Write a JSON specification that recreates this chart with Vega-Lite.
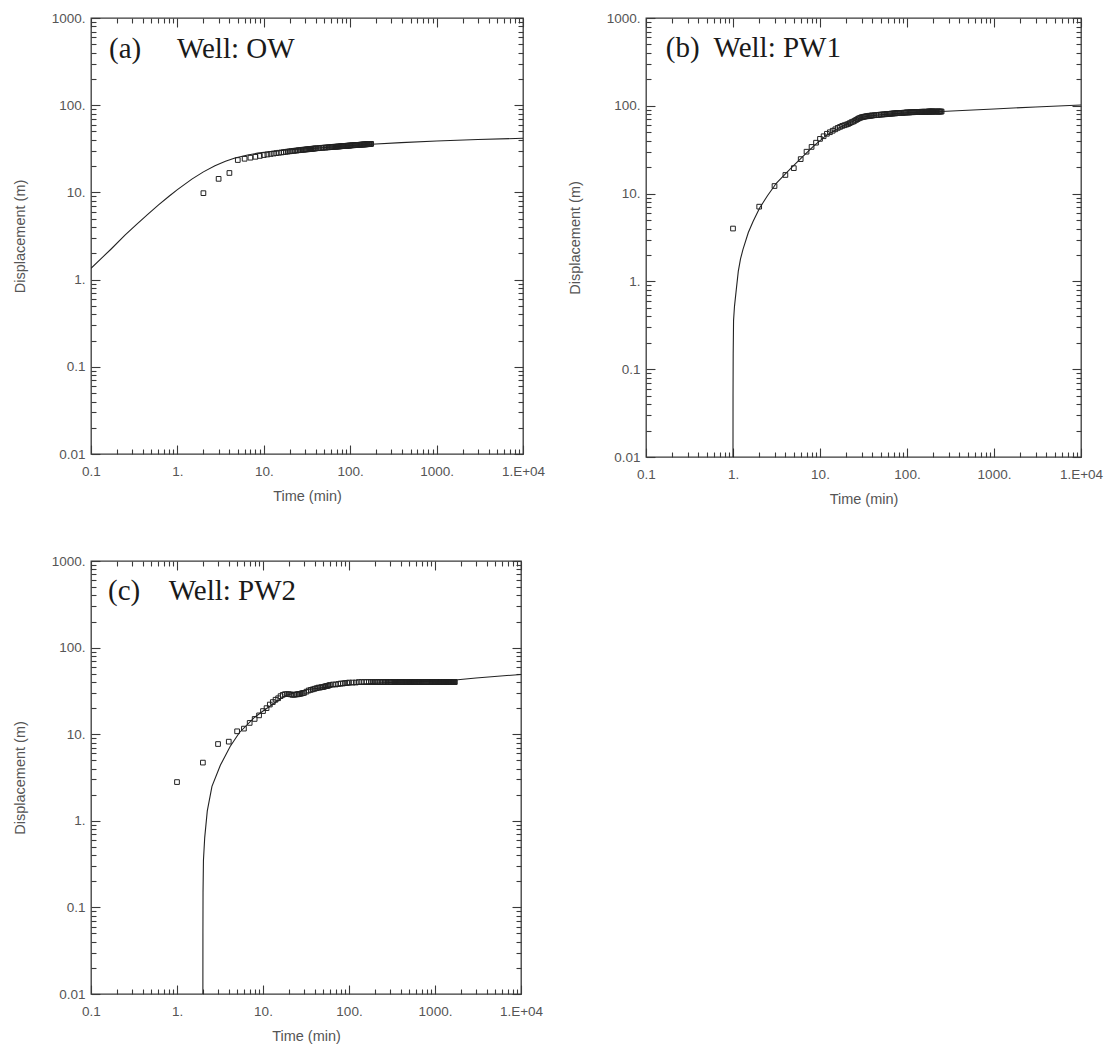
{
  "$schema": "https://vega.github.io/schema/vega-lite/v6.json",
  "background": "white",
  "padding": {"left": 11, "top": 10, "right": 5, "bottom": 2},
  "config": {
    "font": "Liberation Sans",
    "view": {"stroke": "#3a3a3a", "strokeWidth": 1.3},
    "axis": {"labelFont": "Liberation Sans", "labelFontSize": 13.5, "labelColor": "#555555", "titleFont": "Liberation Sans", "titleFontSize": 14.5, "titleFontWeight": "normal", "titleColor": "#555555", "grid": false, "domain": false, "tickColor": "#3a3a3a", "tickWidth": 1.1, "labelOverlap": false, "labelFlush": false}
  },
  "datasets": {
    "ow_obs": [
      {"t": 2, "s": 9.8}, {"t": 3, "s": 14.3}, {"t": 4, "s": 16.7},
      {"t": 5, "s": 23.5}, {"t": 6, "s": 24.3}, {"t": 7, "s": 25.0}, {"t": 8, "s": 25.6}, {"t": 9, "s": 26.2}, {"t": 10, "s": 26.8}, {"t": 11, "s": 27.2}, {"t": 12, "s": 27.6}, {"t": 13, "s": 27.9}, {"t": 14, "s": 28.2}, {"t": 15, "s": 28.5}, {"t": 16, "s": 28.7}, {"t": 17, "s": 29.0}, {"t": 18, "s": 29.2}, {"t": 19, "s": 29.4}, {"t": 20, "s": 29.6},
      {"t": 21, "s": 29.8}, {"t": 22, "s": 29.9}, {"t": 23, "s": 30.1}, {"t": 24, "s": 30.2}, {"t": 25, "s": 30.4}, {"t": 26, "s": 30.5}, {"t": 27, "s": 30.6}, {"t": 28, "s": 30.8}, {"t": 29, "s": 30.9}, {"t": 30, "s": 31.0},
      {"t": 31, "s": 31.1}, {"t": 32, "s": 31.2}, {"t": 33, "s": 31.3}, {"t": 34, "s": 31.4}, {"t": 35, "s": 31.5}, {"t": 36, "s": 31.6}, {"t": 37, "s": 31.7}, {"t": 38, "s": 31.8}, {"t": 39, "s": 31.9}, {"t": 40, "s": 32.0},
      {"t": 42, "s": 32.1}, {"t": 44, "s": 32.2}, {"t": 46, "s": 32.4}, {"t": 48, "s": 32.5}, {"t": 50, "s": 32.6}, {"t": 52, "s": 32.7}, {"t": 54, "s": 32.8}, {"t": 56, "s": 32.9}, {"t": 58, "s": 33.0}, {"t": 60, "s": 33.1},
      {"t": 62, "s": 33.2}, {"t": 64, "s": 33.3}, {"t": 66, "s": 33.4}, {"t": 68, "s": 33.4}, {"t": 70, "s": 33.5}, {"t": 72, "s": 33.6}, {"t": 74, "s": 33.6}, {"t": 76, "s": 33.7}, {"t": 78, "s": 33.8}, {"t": 80, "s": 33.9},
      {"t": 82, "s": 33.9}, {"t": 84, "s": 34.0}, {"t": 86, "s": 34.1}, {"t": 88, "s": 34.1}, {"t": 90, "s": 34.2}, {"t": 92, "s": 34.3}, {"t": 94, "s": 34.3}, {"t": 96, "s": 34.4}, {"t": 98, "s": 34.4}, {"t": 100, "s": 34.5},
      {"t": 103, "s": 34.6}, {"t": 106, "s": 34.7}, {"t": 109, "s": 34.7}, {"t": 112, "s": 34.8}, {"t": 115, "s": 34.9}, {"t": 118, "s": 34.9}, {"t": 121, "s": 35.0}, {"t": 124, "s": 35.1}, {"t": 127, "s": 35.1}, {"t": 130, "s": 35.2},
      {"t": 133, "s": 35.3}, {"t": 136, "s": 35.3}, {"t": 139, "s": 35.4}, {"t": 142, "s": 35.4}, {"t": 145, "s": 35.5}, {"t": 148, "s": 35.5}, {"t": 151, "s": 35.6}, {"t": 154, "s": 35.6}, {"t": 157, "s": 35.7}, {"t": 160, "s": 35.7},
      {"t": 163, "s": 35.8}, {"t": 166, "s": 35.8}, {"t": 169, "s": 35.9}, {"t": 172, "s": 35.9}, {"t": 175, "s": 36.0}
    ],
    "ow_fit": [
      {"t": 0.1, "s": 1.35}, {"t": 0.13, "s": 1.73}, {"t": 0.17, "s": 2.23}, {"t": 0.249, "s": 3.25}, {"t": 0.33, "s": 4.21}, {"t": 0.45, "s": 5.57}, {"t": 0.605, "s": 7.19}, {"t": 0.8, "s": 9.04}, {"t": 1.0, "s": 10.76}, {"t": 1.47, "s": 14.2}, {"t": 2.0, "s": 17.2}, {"t": 2.72, "s": 20.2}, {"t": 3.6, "s": 22.7}, {"t": 4.64, "s": 24.8}, {"t": 6.5, "s": 26.9}, {"t": 8.5, "s": 28.2}, {"t": 11.3, "s": 29.3}, {"t": 20, "s": 30.8}, {"t": 38.9, "s": 32.1}, {"t": 80, "s": 33.8}, {"t": 176, "s": 35.6}, {"t": 389, "s": 37.2}, {"t": 1000, "s": 38.8}, {"t": 3000, "s": 40.4}, {"t": 10000, "s": 41.7}
    ],
    "pw1_obs": [
      {"t": 1, "s": 4.0}, {"t": 2, "s": 7.1}, {"t": 3, "s": 12.2}, {"t": 4, "s": 16.3}, {"t": 5, "s": 19.5}, {"t": 6, "s": 24.7}, {"t": 7, "s": 30}, {"t": 8, "s": 34}, {"t": 9, "s": 38}, {"t": 10, "s": 42},
      {"t": 11, "s": 45}, {"t": 12, "s": 48}, {"t": 13, "s": 50}, {"t": 14, "s": 52}, {"t": 15, "s": 54}, {"t": 16, "s": 56}, {"t": 17, "s": 57.5}, {"t": 18, "s": 59}, {"t": 19, "s": 60}, {"t": 20, "s": 61},
      {"t": 21, "s": 62}, {"t": 22, "s": 63.5}, {"t": 23, "s": 65}, {"t": 24, "s": 66}, {"t": 25, "s": 67.5}, {"t": 26, "s": 69}, {"t": 27, "s": 70.5}, {"t": 28, "s": 72}, {"t": 29, "s": 73}, {"t": 30, "s": 74},
      {"t": 31, "s": 74.5}, {"t": 32, "s": 75}, {"t": 33, "s": 75.5}, {"t": 34, "s": 76}, {"t": 35, "s": 76}, {"t": 36, "s": 76.5}, {"t": 37, "s": 77}, {"t": 38, "s": 77}, {"t": 39, "s": 77.5}, {"t": 40, "s": 77.5},
      {"t": 42, "s": 78}, {"t": 44, "s": 78.5}, {"t": 46, "s": 78.5}, {"t": 48, "s": 79}, {"t": 50, "s": 79.5}, {"t": 52, "s": 79.5}, {"t": 54, "s": 80}, {"t": 56, "s": 80}, {"t": 58, "s": 80.5}, {"t": 60, "s": 81},
      {"t": 62, "s": 81}, {"t": 64, "s": 81}, {"t": 66, "s": 81.5}, {"t": 68, "s": 81.5}, {"t": 70, "s": 82}, {"t": 72, "s": 82}, {"t": 74, "s": 82}, {"t": 76, "s": 82.5}, {"t": 78, "s": 82.5}, {"t": 80, "s": 82.5},
      {"t": 83, "s": 83}, {"t": 86, "s": 83}, {"t": 89, "s": 83}, {"t": 92, "s": 83.5}, {"t": 95, "s": 83.5}, {"t": 98, "s": 84}, {"t": 101, "s": 84}, {"t": 104, "s": 84}, {"t": 107, "s": 84}, {"t": 110, "s": 84.5},
      {"t": 113, "s": 84.5}, {"t": 116, "s": 84.5}, {"t": 119, "s": 84.5}, {"t": 122, "s": 85}, {"t": 125, "s": 85}, {"t": 128, "s": 85}, {"t": 131, "s": 85}, {"t": 134, "s": 85}, {"t": 137, "s": 85}, {"t": 140, "s": 85},
      {"t": 143, "s": 85}, {"t": 146, "s": 85.5}, {"t": 149, "s": 85.5}, {"t": 152, "s": 85.5}, {"t": 155, "s": 85.5}, {"t": 158, "s": 85.5}, {"t": 161, "s": 85.5}, {"t": 164, "s": 85.5}, {"t": 167, "s": 85.5}, {"t": 170, "s": 85.5},
      {"t": 173, "s": 85.5}, {"t": 176, "s": 86}, {"t": 179, "s": 86}, {"t": 182, "s": 86}, {"t": 185, "s": 86}, {"t": 188, "s": 86}, {"t": 191, "s": 86}, {"t": 194, "s": 86}, {"t": 197, "s": 86}, {"t": 200, "s": 86},
      {"t": 205, "s": 86}, {"t": 210, "s": 86}, {"t": 215, "s": 86}, {"t": 220, "s": 86}, {"t": 225, "s": 86}, {"t": 230, "s": 86}, {"t": 235, "s": 86}, {"t": 240, "s": 86}, {"t": 245, "s": 86}, {"t": 250, "s": 86}
    ],
    "pw1_fit": [
      {"t": 1.0, "s": 0.01}, {"t": 1.001, "s": 0.05}, {"t": 1.005, "s": 0.15}, {"t": 1.015, "s": 0.36}, {"t": 1.04, "s": 0.52}, {"t": 1.09, "s": 0.8}, {"t": 1.15, "s": 1.3}, {"t": 1.22, "s": 1.8}, {"t": 1.3, "s": 2.3}, {"t": 1.5, "s": 3.6}, {"t": 1.7, "s": 4.8}, {"t": 2.03, "s": 6.9}, {"t": 2.5, "s": 9.5}, {"t": 3.16, "s": 13.2}, {"t": 4.0, "s": 16.8}, {"t": 4.9, "s": 20.5}, {"t": 6.5, "s": 27}, {"t": 8.5, "s": 35}, {"t": 11.8, "s": 46}, {"t": 16, "s": 55}, {"t": 22, "s": 64}, {"t": 28.6, "s": 72.5}, {"t": 35, "s": 76}, {"t": 50, "s": 79}, {"t": 100, "s": 83}, {"t": 248, "s": 86}, {"t": 1000, "s": 92}, {"t": 3000, "s": 97}, {"t": 10000, "s": 102}
    ],
    "pw2_obs": [
      {"t": 1, "s": 2.8}, {"t": 2, "s": 4.7}, {"t": 3, "s": 7.7}, {"t": 4, "s": 8.2}, {"t": 5, "s": 10.8}, {"t": 6, "s": 11.6}, {"t": 7, "s": 13.5}, {"t": 8, "s": 15}, {"t": 9, "s": 16.5}, {"t": 10, "s": 18.5},
      {"t": 11, "s": 20}, {"t": 12, "s": 22}, {"t": 13, "s": 23.5}, {"t": 14, "s": 25}, {"t": 15, "s": 26}, {"t": 16, "s": 27.5}, {"t": 17, "s": 28.5}, {"t": 18, "s": 29}, {"t": 19, "s": 29}, {"t": 20, "s": 29},
      {"t": 21, "s": 28.8}, {"t": 22, "s": 28.5}, {"t": 23, "s": 28.5}, {"t": 24, "s": 28.8}, {"t": 25, "s": 28.8}, {"t": 26, "s": 29}, {"t": 27, "s": 29.2}, {"t": 28, "s": 29.5}, {"t": 29, "s": 29.8}, {"t": 30, "s": 30},
      {"t": 32, "s": 31}, {"t": 34, "s": 32}, {"t": 36, "s": 32.5}, {"t": 38, "s": 33}, {"t": 40, "s": 33.5}, {"t": 42, "s": 34}, {"t": 44, "s": 34.5}, {"t": 46, "s": 34.5}, {"t": 48, "s": 35}, {"t": 50, "s": 35},
      {"t": 52, "s": 35.5}, {"t": 54, "s": 36}, {"t": 56, "s": 36}, {"t": 58, "s": 36.5}, {"t": 60, "s": 37}, {"t": 65, "s": 37.5}, {"t": 70, "s": 37.5}, {"t": 75, "s": 38}, {"t": 80, "s": 38.5}, {"t": 85, "s": 38.5},
      {"t": 90, "s": 39}, {"t": 95, "s": 39}, {"t": 100, "s": 39.5}, {"t": 110, "s": 39.5}, {"t": 120, "s": 39.5}, {"t": 130, "s": 40}, {"t": 140, "s": 40}, {"t": 150, "s": 40}, {"t": 160, "s": 40}, {"t": 170, "s": 40},
      {"t": 180, "s": 40}, {"t": 190, "s": 40}, {"t": 200, "s": 40}, {"t": 210, "s": 40}, {"t": 220, "s": 40}, {"t": 230, "s": 40}, {"t": 240, "s": 40}, {"t": 250, "s": 40}, {"t": 260, "s": 40}, {"t": 270, "s": 40},
      {"t": 280, "s": 40}, {"t": 290, "s": 40}, {"t": 300, "s": 40}, {"t": 310, "s": 40}, {"t": 320, "s": 40}, {"t": 330, "s": 40}, {"t": 340, "s": 40}, {"t": 350, "s": 40}, {"t": 360, "s": 40}, {"t": 370, "s": 40},
      {"t": 380, "s": 40}, {"t": 390, "s": 40}, {"t": 400, "s": 40}, {"t": 410, "s": 40}, {"t": 420, "s": 40}, {"t": 430, "s": 40}, {"t": 440, "s": 40}, {"t": 450, "s": 40}, {"t": 460, "s": 40}, {"t": 470, "s": 40},
      {"t": 480, "s": 40}, {"t": 490, "s": 40}, {"t": 500, "s": 40}, {"t": 510, "s": 40}, {"t": 520, "s": 40}, {"t": 530, "s": 40}, {"t": 540, "s": 40}, {"t": 550, "s": 40}, {"t": 560, "s": 40}, {"t": 570, "s": 40},
      {"t": 580, "s": 40}, {"t": 590, "s": 40}, {"t": 600, "s": 40}, {"t": 620, "s": 40}, {"t": 640, "s": 40}, {"t": 660, "s": 40}, {"t": 680, "s": 40}, {"t": 700, "s": 40}, {"t": 720, "s": 40}, {"t": 740, "s": 40},
      {"t": 760, "s": 40}, {"t": 780, "s": 40}, {"t": 800, "s": 40}, {"t": 820, "s": 40}, {"t": 840, "s": 40}, {"t": 860, "s": 40}, {"t": 880, "s": 40}, {"t": 900, "s": 40}, {"t": 920, "s": 40}, {"t": 940, "s": 40},
      {"t": 960, "s": 40}, {"t": 980, "s": 40}, {"t": 1000, "s": 40}, {"t": 1020, "s": 40}, {"t": 1040, "s": 40}, {"t": 1060, "s": 40}, {"t": 1080, "s": 40}, {"t": 1100, "s": 40}, {"t": 1120, "s": 40}, {"t": 1140, "s": 40},
      {"t": 1160, "s": 40}, {"t": 1180, "s": 40}, {"t": 1200, "s": 40}, {"t": 1220, "s": 40}, {"t": 1240, "s": 40}, {"t": 1260, "s": 40}, {"t": 1280, "s": 40}, {"t": 1300, "s": 40}, {"t": 1320, "s": 40}, {"t": 1340, "s": 40},
      {"t": 1360, "s": 40}, {"t": 1380, "s": 40}, {"t": 1400, "s": 40}, {"t": 1420, "s": 40}, {"t": 1440, "s": 40}, {"t": 1460, "s": 40}, {"t": 1480, "s": 40}, {"t": 1500, "s": 40}, {"t": 1520, "s": 40}, {"t": 1540, "s": 40},
      {"t": 1560, "s": 40}, {"t": 1580, "s": 40}, {"t": 1600, "s": 40}, {"t": 1620, "s": 40}, {"t": 1640, "s": 40}, {"t": 1660, "s": 40}, {"t": 1680, "s": 40}, {"t": 1700, "s": 40}
    ],
    "pw2_fit": [
      {"t": 2.0, "s": 0.01}, {"t": 2.002, "s": 0.05}, {"t": 2.008, "s": 0.15}, {"t": 2.03, "s": 0.35}, {"t": 2.1, "s": 0.64}, {"t": 2.25, "s": 1.3}, {"t": 2.55, "s": 2.5}, {"t": 3.2, "s": 4.4}, {"t": 4.15, "s": 7.2}, {"t": 5.3, "s": 10.4}, {"t": 8, "s": 15.7}, {"t": 10.3, "s": 18.9}, {"t": 15, "s": 24.5}, {"t": 18, "s": 27.7}, {"t": 24, "s": 30.5}, {"t": 35, "s": 33}, {"t": 50, "s": 34.5}, {"t": 100, "s": 37}, {"t": 142, "s": 38}, {"t": 300, "s": 39.5}, {"t": 1000, "s": 41}, {"t": 1600, "s": 42}, {"t": 3000, "s": 44.5}, {"t": 10000, "s": 49}
    ]
  },
  "vconcat": [
    {
      "hconcat": [
        {
          "width": 432, "height": 436,
          "layer": [
            {
              "data": {"name": "ow_fit"},
              "mark": {"type": "line", "color": "#222222", "strokeWidth": 1.1, "clip": true},
              "encoding": {
                "x": {"field": "t", "type": "quantitative", "scale": {"type": "log", "domain": [0.1, 10000]},
                  "axis": {"orient": "bottom", "title": "Time (min)", "tickCount": 20, "labelPadding": 19, "titlePadding": 8,
                    "labelExpr": "abs(log(datum.value)/LN10 - round(log(datum.value)/LN10)) > 0.001 ? '' : (datum.value >= 9999 ? '1.E+04' : (datum.value >= 1 ? format(datum.value, 'd') + '.' : '' + datum.value))",
                    "tickSize": {"condition": {"test": "abs(log(datum.value)/LN10 - round(log(datum.value)/LN10)) < 0.001", "value": -9}, "value": -5}}},
                "y": {"field": "s", "type": "quantitative", "scale": {"type": "log", "domain": [0.01, 1000]},
                  "axis": {"orient": "left", "title": "Displacement (m)", "tickCount": 20, "labelPadding": 15, "titlePadding": 24,
                    "labelExpr": "abs(log(datum.value)/LN10 - round(log(datum.value)/LN10)) > 0.001 ? '' : (datum.value >= 1 ? format(datum.value, 'd') + '.' : '' + datum.value)",
                    "tickSize": {"condition": {"test": "abs(log(datum.value)/LN10 - round(log(datum.value)/LN10)) < 0.001", "value": -9}, "value": -5}}}
              }
            },
            {
              "data": {"name": "ow_obs"},
              "mark": {"type": "point", "shape": "square", "filled": false, "stroke": "#222222", "strokeWidth": 1, "size": 22, "opacity": 1},
              "encoding": {
                "x": {"field": "t", "type": "quantitative", "axis": {"orient": "top", "title": null, "labels": false, "tickCount": 20,
                    "tickSize": {"condition": {"test": "abs(log(datum.value)/LN10 - round(log(datum.value)/LN10)) < 0.001", "value": -9}, "value": -5}}},
                "y": {"field": "s", "type": "quantitative", "axis": {"orient": "right", "title": null, "labels": false, "tickCount": 20,
                    "tickSize": {"condition": {"test": "abs(log(datum.value)/LN10 - round(log(datum.value)/LN10)) < 0.001", "value": -9}, "value": -5}}}
              }
            },
            {
              "data": {"values": [{}]},
              "mark": {"type": "text", "font": "Liberation Serif", "fontSize": 29, "fill": "#1a1a1a", "align": "left", "baseline": "alphabetic"},
              "encoding": {
                "x": {"datum": 0.1615, "type": "quantitative", "axis": null},
                "y": {"datum": 347, "type": "quantitative", "axis": null},
                "text": {"value": "(a)\u00a0\u00a0\u00a0\u00a0 Well: OW"}
              }
            }
          ],
          "resolve": {"axis": {"x": "independent", "y": "independent"}}
        },
        {
          "width": 435, "height": 439,
          "layer": [
            {
              "data": {"name": "pw1_fit"},
              "mark": {"type": "line", "color": "#222222", "strokeWidth": 1.1, "clip": true},
              "encoding": {
                "x": {"field": "t", "type": "quantitative", "scale": {"type": "log", "domain": [0.1, 10000]},
                  "axis": {"orient": "bottom", "title": "Time (min)", "tickCount": 20, "labelPadding": 19, "titlePadding": 8,
                    "labelExpr": "abs(log(datum.value)/LN10 - round(log(datum.value)/LN10)) > 0.001 ? '' : (datum.value >= 9999 ? '1.E+04' : (datum.value >= 1 ? format(datum.value, 'd') + '.' : '' + datum.value))",
                    "tickSize": {"condition": {"test": "abs(log(datum.value)/LN10 - round(log(datum.value)/LN10)) < 0.001", "value": -9}, "value": -5}}},
                "y": {"field": "s", "type": "quantitative", "scale": {"type": "log", "domain": [0.01, 1000]},
                  "axis": {"orient": "left", "title": "Displacement (m)", "tickCount": 20, "labelPadding": 15, "titlePadding": 24,
                    "labelExpr": "abs(log(datum.value)/LN10 - round(log(datum.value)/LN10)) > 0.001 ? '' : (datum.value >= 1 ? format(datum.value, 'd') + '.' : '' + datum.value)",
                    "tickSize": {"condition": {"test": "abs(log(datum.value)/LN10 - round(log(datum.value)/LN10)) < 0.001", "value": -9}, "value": -5}}}
              }
            },
            {
              "data": {"name": "pw1_obs"},
              "mark": {"type": "point", "shape": "square", "filled": false, "stroke": "#222222", "strokeWidth": 1, "size": 22, "opacity": 1},
              "encoding": {
                "x": {"field": "t", "type": "quantitative", "axis": {"orient": "top", "title": null, "labels": false, "tickCount": 20,
                    "tickSize": {"condition": {"test": "abs(log(datum.value)/LN10 - round(log(datum.value)/LN10)) < 0.001", "value": -9}, "value": -5}}},
                "y": {"field": "s", "type": "quantitative", "axis": {"orient": "right", "title": null, "labels": false, "tickCount": 20,
                    "tickSize": {"condition": {"test": "abs(log(datum.value)/LN10 - round(log(datum.value)/LN10)) < 0.001", "value": -9}, "value": -5}}}
              }
            },
            {
              "data": {"values": [{}]},
              "mark": {"type": "text", "font": "Liberation Serif", "fontSize": 29, "fill": "#1a1a1a", "align": "left", "baseline": "alphabetic"},
              "encoding": {
                "x": {"datum": 0.169, "type": "quantitative", "axis": null},
                "y": {"datum": 359, "type": "quantitative", "axis": null},
                "text": {"value": "(b)\u00a0 Well: PW1"}
              }
            }
          ],
          "resolve": {"axis": {"x": "independent", "y": "independent"}}
        }
      ],
      "spacing": 20
    },
    {
      "width": 430, "height": 433,
      "layer": [
        {
          "data": {"name": "pw2_fit"},
          "mark": {"type": "line", "color": "#222222", "strokeWidth": 1.1, "clip": true},
          "encoding": {
            "x": {"field": "t", "type": "quantitative", "scale": {"type": "log", "domain": [0.1, 10000]},
              "axis": {"orient": "bottom", "title": "Time (min)", "tickCount": 20, "labelPadding": 19, "titlePadding": 8,
                "labelExpr": "abs(log(datum.value)/LN10 - round(log(datum.value)/LN10)) > 0.001 ? '' : (datum.value >= 9999 ? '1.E+04' : (datum.value >= 1 ? format(datum.value, 'd') + '.' : '' + datum.value))",
                "tickSize": {"condition": {"test": "abs(log(datum.value)/LN10 - round(log(datum.value)/LN10)) < 0.001", "value": -9}, "value": -5}}},
            "y": {"field": "s", "type": "quantitative", "scale": {"type": "log", "domain": [0.01, 1000]},
              "axis": {"orient": "left", "title": "Displacement (m)", "tickCount": 20, "labelPadding": 15, "titlePadding": 24,
                "labelExpr": "abs(log(datum.value)/LN10 - round(log(datum.value)/LN10)) > 0.001 ? '' : (datum.value >= 1 ? format(datum.value, 'd') + '.' : '' + datum.value)",
                "tickSize": {"condition": {"test": "abs(log(datum.value)/LN10 - round(log(datum.value)/LN10)) < 0.001", "value": -9}, "value": -5}}}
          }
        },
        {
          "data": {"name": "pw2_obs"},
          "mark": {"type": "point", "shape": "square", "filled": false, "stroke": "#222222", "strokeWidth": 1, "size": 22, "opacity": 1},
          "encoding": {
            "x": {"field": "t", "type": "quantitative", "axis": {"orient": "top", "title": null, "labels": false, "tickCount": 20,
                "tickSize": {"condition": {"test": "abs(log(datum.value)/LN10 - round(log(datum.value)/LN10)) < 0.001", "value": -9}, "value": -5}}},
            "y": {"field": "s", "type": "quantitative", "axis": {"orient": "right", "title": null, "labels": false, "tickCount": 20,
                "tickSize": {"condition": {"test": "abs(log(datum.value)/LN10 - round(log(datum.value)/LN10)) < 0.001", "value": -9}, "value": -5}}}
          }
        },
        {
          "data": {"values": [{}]},
          "mark": {"type": "text", "font": "Liberation Serif", "fontSize": 29, "fill": "#1a1a1a", "align": "left", "baseline": "alphabetic"},
          "encoding": {
            "x": {"datum": 0.158, "type": "quantitative", "axis": null},
            "y": {"datum": 358, "type": "quantitative", "axis": null},
            "text": {"value": "(c)\u00a0\u00a0\u00a0 Well: PW2"}
          }
        }
      ],
      "resolve": {"axis": {"x": "independent", "y": "independent"}}
    }
  ],
  "spacing": 46
}
